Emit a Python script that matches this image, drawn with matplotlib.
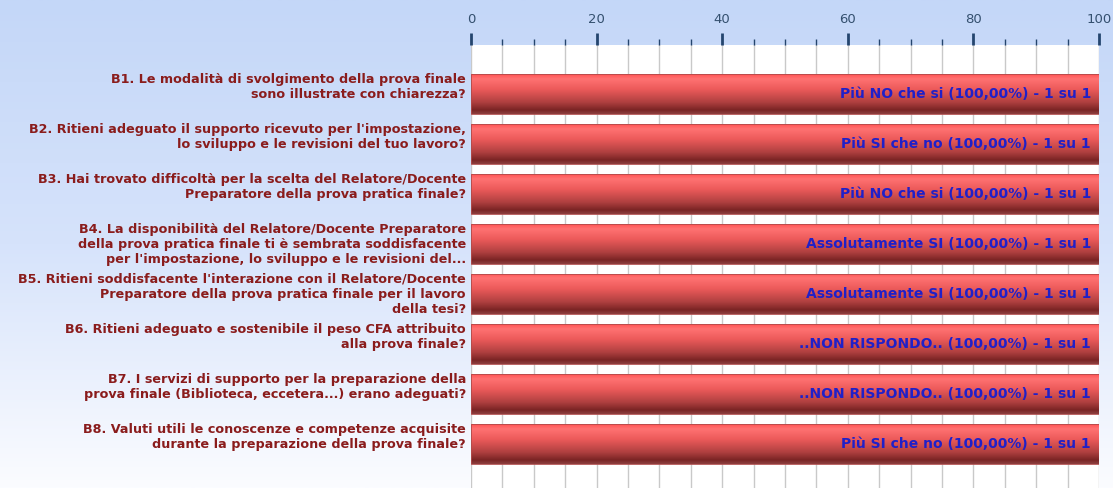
import numpy as np
import matplotlib
matplotlib.use("Agg")
import matplotlib.pyplot as plt
from matplotlib.colors import LinearSegmentedColormap
from matplotlib.ticker import MultipleLocator

# ---------------- data ----------------
questions = [
    "B1. Le modalità di svolgimento della prova finale\nsono illustrate con chiarezza?",
    "B2. Ritieni adeguato il supporto ricevuto per l'impostazione,\nlo sviluppo e le revisioni del tuo lavoro?",
    "B3. Hai trovato difficoltà per la scelta del Relatore/Docente\nPreparatore della prova pratica finale?",
    "B4. La disponibilità del Relatore/Docente Preparatore\ndella prova pratica finale ti è sembrata soddisfacente\nper l'impostazione, lo sviluppo e le revisioni del...",
    "B5. Ritieni soddisfacente l'interazione con il Relatore/Docente\nPreparatore della prova pratica finale per il lavoro\ndella tesi?",
    "B6. Ritieni adeguato e sostenibile il peso CFA attribuito\nalla prova finale?",
    "B7. I servizi di supporto per la preparazione della\nprova finale (Biblioteca, eccetera...) erano adeguati?",
    "B8. Valuti utili le conoscenze e competenze acquisite\ndurante la preparazione della prova finale?",
]
answers = ["Più NO che si", "Più SI che no", "Più NO che si", "Assolutamente SI",
           "Assolutamente SI", "..NON RISPONDO..", "..NON RISPONDO..", "Più SI che no"]
percent = [100.0, 100.0, 100.0, 100.0, 100.0, 100.0, 100.0, 100.0]
counts = [1, 1, 1, 1, 1, 1, 1, 1]
totals = [1, 1, 1, 1, 1, 1, 1, 1]
x_ticks = [0, 20, 40, 60, 80, 100]

# ---------------- figure ----------------
W, H = 1113, 488
fig = plt.figure(figsize=(W / 100, H / 100), dpi=100)

# background gradient
bg = fig.add_axes([0, 0, 1, 1], zorder=-10)
bg_cmap = LinearSegmentedColormap.from_list("bg", ["#c4d7f8", "#d6e3fb", "#fbfcff"])
bg.imshow(np.linspace(0, 1, 256).reshape(-1, 1), aspect="auto", cmap=bg_cmap,
          extent=[0, 1, 0, 1], origin="upper")
bg.set_axis_off()

ax = fig.add_axes([471 / W, 0, (1099 - 471) / W, 1 - 45 / H])
ax.set_facecolor("white")
y = np.arange(len(questions))
bar_h = 0.8
bars = ax.barh(y, percent, height=bar_h, color="none", edgecolor="none", zorder=3)

bar_cmap = LinearSegmentedColormap.from_list(
    "bar", [(0.0, "#ff5252"), (0.12, "#ff7272"), (0.38, "#ec5a5a"),
            (0.7, "#b04040"), (0.9, "#7a2424"), (1.0, "#8e4040")])
grad = np.linspace(0, 1, 256).reshape(-1, 1)
for rect in bars:
    x0, yb = rect.get_x(), rect.get_y()
    w, h = rect.get_width(), rect.get_height()
    im = ax.imshow(grad, aspect="auto", cmap=bar_cmap,
                   extent=[x0, x0 + w, yb + h, yb], origin="upper", zorder=3)
    im.set_clip_path(rect)
    ax.add_patch(plt.Rectangle((x0, yb), w, h, fill=False, edgecolor="#b04a4a",
                               linewidth=0.6, zorder=4))

ax.set_xlim(0, 100)
ax.set_ylim(7.88, -0.98)

ax.xaxis.tick_top()
ax.xaxis.set_minor_locator(MultipleLocator(5))
ax.set_xticks(x_ticks)
ax.set_xticklabels([str(t) for t in x_ticks])
ax.tick_params(axis="x", which="major", length=8.5, width=2.0, color="#24456e",
               labelcolor="#34506f", labelsize=9.5, pad=5)
ax.tick_params(axis="x", which="minor", length=4.5, width=1.0, color="#24456e")
ax.tick_params(axis="y", left=False, labelleft=False)
ax.grid(True, axis="x", which="both", color="#c9c9c9", linewidth=1.0, zorder=0)
ax.set_axisbelow(True)
for s in ax.spines.values():
    s.set_visible(False)

# category labels (top aligned, right aligned)
for i, q in enumerate(questions):
    ax.annotate(q, xy=(0, i - 0.42), xycoords="data", xytext=(-5, 0),
                textcoords="offset pixels", ha="right", va="top",
                fontsize=9.2, fontweight="bold", color="#8a1c1c",
                linespacing=1.2, annotation_clip=False)

# value labels inside bars
for i, (a, p, c, t) in enumerate(zip(answers, percent, counts, totals)):
    num = f"{p:.2f}".replace(".", ",")
    ax.annotate(f"{a} ({num}%) - {c} su {t}", xy=(percent[i], i), xytext=(-8, 0),
                textcoords="offset pixels", ha="right", va="center",
                fontsize=10, fontweight="bold", color="#2020c8", zorder=6)

fig.savefig("out.png", dpi=100)
